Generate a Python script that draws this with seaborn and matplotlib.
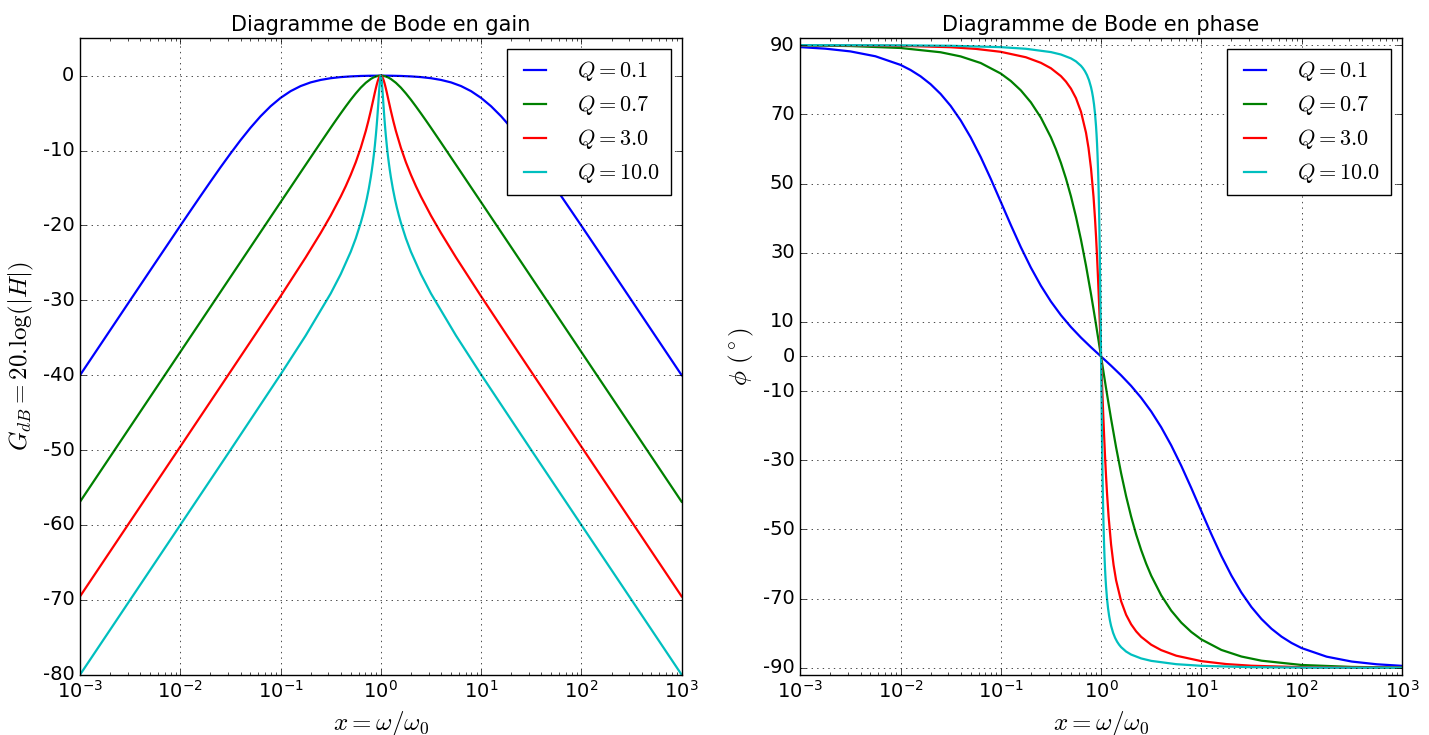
import pandas as pd
import matplotlib
matplotlib.use('Agg')
import matplotlib.pyplot as plt
import seaborn as sns

# values (x = w/w0, gain in dB, phase in degrees)
q_labels = ['$Q = 0.1$', '$Q = 0.7$', '$Q = 3.0$', '$Q = 10.0$']

x_q01 = [0.001, 0.0017783, 0.0031623, 0.0056234, 0.01, 0.012589, 0.015849, 0.019953,
         0.025119, 0.031623, 0.039811, 0.050119, 0.063096, 0.079433, 0.1, 0.12589,
         0.15849, 0.19953, 0.25119, 0.31623, 0.39811, 0.50119, 0.63096, 0.79433, 1.0,
         1.2589, 1.5849, 1.9953, 2.5119, 3.1623, 3.9811, 5.0119, 6.3096, 7.9433, 10.0,
         12.589, 15.849, 19.953, 25.119, 31.623, 39.811, 50.119, 63.096, 79.433, 100.0,
         177.83, 316.23, 562.34, 1000.0]
gain_q01 = [-40.00, -35.00, -30.00, -25.01, -20.04, -18.07, -16.11, -14.17, -12.26,
            -10.41, -8.63, -6.96, -5.43, -4.09, -2.97, -2.07, -1.39, -0.90, -0.57,
            -0.34, -0.19, -0.10, -0.04, -0.01, 0.00, -0.01, -0.04, -0.10, -0.19, -0.34,
            -0.57, -0.90, -1.39, -2.07, -2.97, -4.09, -5.43, -6.96, -8.63, -10.41,
            -12.26, -14.17, -16.11, -18.07, -20.04, -25.01, -30.00, -35.00, -40.00]
phase_q01 = [89.43, 88.98, 88.19, 86.78, 84.29, 82.82, 80.99, 78.71, 75.89, 72.44,
             68.26, 63.32, 57.65, 51.36, 44.71, 38.02, 31.60, 25.70, 20.46, 15.89,
             11.94, 8.50, 5.45, 2.66, 0.00, -2.66, -5.45, -8.50, -11.94, -15.89, -20.46,
             -25.70, -31.60, -38.02, -44.71, -51.36, -57.65, -63.32, -68.26, -72.44,
             -75.89, -78.71, -80.99, -82.82, -84.29, -86.78, -88.19, -88.98, -89.43]

x_q07 = [0.001, 0.0031623, 0.01, 0.025119, 0.039811, 0.063096, 0.1, 0.12589, 0.15849,
         0.19953, 0.25119, 0.31623, 0.35481, 0.39811, 0.44668, 0.50119, 0.56234,
         0.63096, 0.70795, 0.79433, 0.84140, 0.89125, 0.94406, 1.0, 1.0593, 1.1220,
         1.1885, 1.2589, 1.4125, 1.5849, 1.7783, 1.9953, 2.2387, 2.5119, 2.8184,
         3.1623, 3.9811, 5.0119, 6.3096, 7.9433, 10.0, 15.849, 25.119, 39.811, 100.0,
         316.23, 1000.0]
gain_q07 = [-56.90, -46.90, -36.90, -28.90, -24.90, -20.90, -16.90, -14.91, -12.91,
            -10.92, -8.93, -6.96, -5.99, -5.04, -4.11, -3.21, -2.37, -1.60, -0.95,
            -0.44, -0.25, -0.11, -0.03, 0.00, -0.03, -0.11, -0.25, -0.44, -0.95, -1.60,
            -2.37, -3.21, -4.11, -5.04, -5.99, -6.96, -8.93, -10.92, -12.91, -14.91,
            -16.90, -20.90, -24.90, -28.90, -36.90, -46.90, -56.90]
phase_q07 = [89.92, 89.74, 89.18, 87.94, 86.74, 84.83, 81.79, 79.64, 76.93, 73.47,
             69.04, 63.35, 59.89, 55.95, 51.44, 46.28, 40.40, 33.73, 26.25, 18.02,
             13.66, 9.18, 4.61, 0.00, -4.61, -9.18, -13.66, -18.02, -26.25, -33.73,
             -40.40, -46.28, -51.44, -55.95, -59.89, -63.35, -69.04, -73.47, -76.93,
             -79.64, -81.79, -84.83, -86.74, -87.94, -89.18, -89.74, -89.92]

x_q3 = [0.001, 0.0031623, 0.01, 0.031623, 0.056234, 0.1, 0.17783, 0.25119, 0.31623,
        0.39811, 0.44668, 0.50119, 0.56234, 0.63096, 0.70795, 0.74989, 0.79433,
        0.84140, 0.87096, 0.89125, 0.91201, 0.93325, 0.95499, 0.97724, 1.0, 1.0233,
        1.0471, 1.0715, 1.0965, 1.1220, 1.1482, 1.1885, 1.2589, 1.3335, 1.4125,
        1.5849, 1.7783, 1.9953, 2.2387, 2.5119, 3.1623, 3.9811, 5.6234, 10.0, 17.783,
        31.623, 100.0, 316.23, 1000.0]
gain_q3 = [-69.54, -59.54, -49.54, -39.53, -34.52, -29.46, -24.28, -21.01, -18.69,
           -16.15, -14.76, -13.24, -11.56, -9.63, -7.38, -6.09, -4.69, -3.19, -2.28,
           -1.70, -1.16, -0.69, -0.32, -0.08, 0.00, -0.08, -0.32, -0.69, -1.16, -1.70,
           -2.28, -3.19, -4.69, -6.09, -7.38, -9.63, -11.56, -13.24, -14.76, -16.15,
           -18.69, -21.01, -24.28, -29.46, -34.52, -39.53, -49.54, -59.54, -69.54]
phase_q3 = [89.98, 89.94, 89.81, 89.40, 88.92, 88.07, 86.50, 84.89, 83.32, 81.04,
            79.46, 77.42, 74.67, 70.74, 64.68, 60.27, 54.34, 46.16, 39.74, 34.69,
            28.96, 22.52, 15.45, 7.87, 0.00, -7.87, -15.45, -22.52, -28.96, -34.69,
            -39.74, -46.16, -54.34, -60.27, -64.68, -70.74, -74.67, -77.42, -79.46,
            -81.04, -83.32, -84.89, -86.50, -88.07, -88.92, -89.40, -89.81, -89.94, -89.98]

x_q10 = [0.001, 0.0031623, 0.01, 0.031623, 0.1, 0.17783, 0.31623, 0.39811, 0.50119,
         0.56234, 0.63096, 0.66069, 0.69183, 0.72444, 0.75858, 0.79433, 0.81283,
         0.83176, 0.85114, 0.87096, 0.89125, 0.90157, 0.91201, 0.92257, 0.93325,
         0.94406, 0.95499, 0.96605, 0.97724, 0.98855, 1.0, 1.0116, 1.0233, 1.0351,
         1.0471, 1.0593, 1.0715, 1.0839, 1.0965, 1.1092, 1.1220, 1.1482, 1.1749,
         1.2023, 1.2303, 1.2589, 1.3183, 1.3804, 1.4454, 1.5136, 1.5849, 1.7783,
         1.9953, 2.5119, 3.1623, 5.6234, 10.0, 31.623, 100.0, 316.23, 1000.0]
gain_q10 = [-80.00, -70.00, -60.00, -49.99, -39.91, -34.72, -29.09, -26.51, -23.51,
            -21.73, -19.64, -18.68, -17.62, -16.44, -15.10, -13.54, -12.65, -11.68,
            -10.60, -9.39, -8.01, -7.25, -6.44, -5.57, -4.64, -3.67, -2.67, -1.69,
            -0.84, -0.22, 0.00, -0.22, -0.84, -1.69, -2.67, -3.67, -4.64, -5.57, -6.44,
            -7.25, -8.01, -9.39, -10.60, -11.68, -12.65, -13.54, -15.10, -16.44, -17.62,
            -18.68, -19.64, -21.73, -23.51, -26.51, -29.09, -34.72, -39.91, -49.99,
            -60.00, -70.00, -80.00]
phase_q10 = [89.99, 89.98, 89.94, 89.82, 89.42, 88.95, 87.99, 87.29, 86.17, 85.30,
             84.02, 83.31, 82.44, 81.33, 79.87, 77.85, 76.53, 74.90, 72.84, 70.16,
             66.57, 64.28, 61.54, 58.21, 54.12, 49.04, 42.66, 34.64, 24.73, 12.97, 0.00,
             -12.97, -24.73, -34.64, -42.66, -49.04, -54.12, -58.21, -61.54, -64.28,
             -66.57, -70.16, -72.84, -74.90, -76.53, -77.85, -79.87, -81.33, -82.44,
             -83.31, -84.02, -85.30, -86.17, -87.29, -87.99, -88.95, -89.42, -89.82,
             -89.94, -89.98, -89.99]

gain_yticks = [0, -10, -20, -30, -40, -50, -60, -70, -80]
phase_yticks = [90, 70, 50, 30, 10, 0, -10, -30, -50, -70, -90]

# long-form table for seaborn
series = [(q_labels[0], x_q01, gain_q01, phase_q01),
          (q_labels[1], x_q07, gain_q07, phase_q07),
          (q_labels[2], x_q3, gain_q3, phase_q3),
          (q_labels[3], x_q10, gain_q10, phase_q10)]
frames = [pd.DataFrame({'x': xs, 'gain': g, 'phase': p, 'Q': lab})
          for lab, xs, g, p in series]
df = pd.concat(frames, ignore_index=True)

plt.style.use('classic')
plt.rcParams['axes.unicode_minus'] = False
plt.rcParams['mathtext.fontset'] = 'cm'
plt.rcParams['font.family'] = ['DejaVu Sans']

palette = ['b', 'g', 'r', 'c']

fig = plt.figure(figsize=(14.29, 7.35), dpi=100, facecolor='white')
ax1 = fig.add_axes([0.056, 0.082, 0.421, 0.866])
ax2 = fig.add_axes([0.560, 0.082, 0.421, 0.866])

sns.lineplot(data=df, x='x', y='gain', hue='Q', palette=palette, ax=ax1,
             sort=False, estimator=None, linewidth=1.6)
sns.lineplot(data=df, x='x', y='phase', hue='Q', palette=palette, ax=ax2,
             sort=False, estimator=None, linewidth=1.6)

for ax in (ax1, ax2):
    ax.set_xscale('log')
    ax.set_xlim(1e-3, 1e3)
    ax.grid(True)
    ax.set_xlabel(r'$x = \omega/\omega_0$', fontsize=18)
    ax.tick_params(labelsize=14)
    leg = ax.legend(loc='upper right', fontsize=16, handlelength=1.6,
                    handletextpad=1.1, borderpad=0.45, labelspacing=0.45)
    leg.get_frame().set_edgecolor('black')

ax1.set_ylim(-80, 5)
ax1.set_yticks(gain_yticks)
ax1.set_ylabel(r'$G_{dB} = 20.\!\mathrm{log}(|H|)$', fontsize=18)
ax1.set_title('Diagramme de Bode en gain', fontsize=15)

ax2.set_ylim(-92, 92)
ax2.set_yticks(phase_yticks)
ax2.set_ylabel(r'$\phi\ (^\circ)$', fontsize=18)
ax2.set_title('Diagramme de Bode en phase', fontsize=15)

fig.savefig('out.png', dpi=100, facecolor='white')
